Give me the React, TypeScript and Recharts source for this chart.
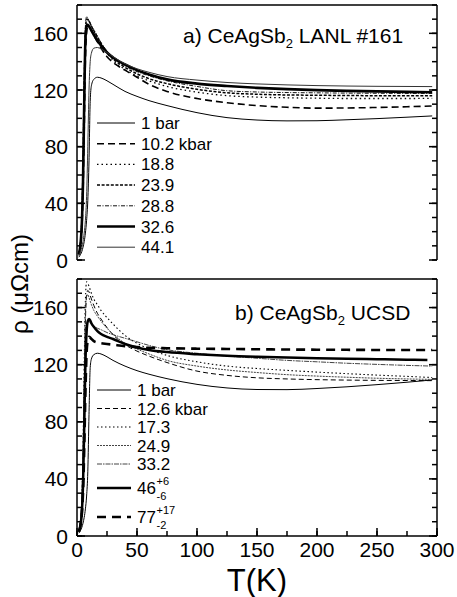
import React from 'react';
import { LineChart, Line, XAxis, YAxis, Legend } from 'recharts';

// Temperature grid (K) shared by most curves
const T_GRID = [1.5, 3, 4, 5, 6, 7, 8, 9, 10, 11, 12, 14, 17, 20, 25, 30, 40, 50, 60, 75, 100, 125, 150, 175, 200, 225, 250, 275, 296];
const T_GRID_SHORT = [1.5, 3, 4, 5, 6, 7, 8, 9, 10, 11, 12, 14, 17, 20, 25, 30, 40, 50, 60, 75, 100, 125, 150, 175, 200, 225, 250, 275, 292];

const X_TICKS = [0, 25, 50, 75, 100, 125, 150, 175, 200, 225, 250, 275, 300];
const X_TICK_LABELS = [0, 50, 100, 150, 200, 250, 300];
const Y_TICKS = [0, 10, 20, 30, 40, 50, 60, 70, 80, 90, 100, 110, 120, 130, 140, 150, 160, 170, 180];
const Y_TICK_LABELS = [0, 40, 80, 120, 160];

// Panel a) LANL sample, resistivity (µΩcm)
const LANL_1BAR = [2, 4, 6, 9, 13, 19, 28, 42, 70, 112, 123, 127.5, 129, 128.5, 126.5, 124, 119, 115.5, 112.5, 109, 104, 100.5, 98.8, 98.2, 98.3, 99, 99.8, 100.8, 101.7];
const LANL_10_2 = [4, 10, 20, 45, 90, 140, 160, 165, 165, 163.5, 162, 158.5, 154, 149.5, 143.5, 139.5, 134, 129, 124, 119, 114, 111, 109, 107.8, 107.2, 107.3, 107.7, 108.2, 108.7];
const LANL_18_8 = [4, 12, 24, 55, 105, 150, 166, 169, 168, 166.5, 165, 161.5, 157, 152.5, 146, 141, 134.5, 130, 126.5, 122.5, 118.5, 116, 115, 114.5, 114.2, 114, 114, 114, 114.1];
const LANL_23_9 = [4, 13, 28, 65, 120, 160, 170, 170, 168.5, 167, 165, 162, 157.5, 153, 146.5, 142, 136, 131.5, 128, 124.5, 120.5, 118, 117, 116.5, 116.3, 116.1, 116, 116, 116];
const LANL_28_8 = [5, 15, 32, 75, 130, 165, 172, 170.5, 169, 167.5, 165.5, 162.5, 158, 153.5, 147.5, 143, 137, 133, 130, 126.5, 122.5, 119.5, 118.6, 118.2, 118, 117.8, 117.7, 117.6, 117.6];
const LANL_32_6 = [4, 12, 25, 55, 110, 155, 165, 166, 165, 163.5, 162, 159, 155, 151.5, 146.5, 143, 138, 134, 131, 127.5, 124.5, 122.8, 121.5, 120.6, 119.9, 119.4, 119, 118.7, 118.4];
const LANL_44_1 = [3, 6, 9, 13, 19, 28, 45, 80, 120, 140, 146, 149.5, 150, 149, 146.5, 143.5, 138.5, 135, 132.5, 129.5, 127, 125.3, 124.3, 123.6, 123.1, 122.8, 122.6, 122.5, 122.4];

// Panel b) UCSD sample, resistivity (µΩcm)
const UCSD_1BAR = [2, 4, 6, 9, 13, 19, 28, 45, 85, 118, 124, 127, 128, 127.5, 125.5, 123, 119, 115.8, 113.3, 110.2, 106.2, 103.7, 102.6, 102.5, 103.3, 104.5, 106, 107.7, 109.3];
const UCSD_12_6 = [3, 9, 18, 45, 100, 150, 168, 172, 171, 168.5, 166, 161.5, 156, 152, 146, 141, 134, 129.5, 126, 121.5, 115.5, 112.5, 110.8, 110, 109.5, 109.2, 109, 108.9, 108.8];
const UCSD_17_3 = [4, 12, 25, 60, 120, 165, 178, 177, 175, 172.5, 170, 166, 162, 158, 153, 148.5, 140.5, 135, 131, 126.5, 122, 119, 117.3, 116, 114.8, 113.7, 112.7, 111.8, 111];
const UCSD_24_9 = [4, 12, 25, 55, 110, 155, 168, 169, 167, 164.5, 162, 158, 154, 150.5, 145.5, 141.5, 135, 131, 127.5, 123, 119, 116.3, 114.5, 113, 112, 111.2, 110.5, 110, 109.7];
const UCSD_33_2 = [4, 12, 25, 55, 100, 135, 148, 151, 150.5, 149.5, 148.5, 147, 145.5, 144.5, 142.5, 141, 138.5, 136, 133.5, 130.5, 128, 126, 124.5, 123, 122, 121, 120.2, 119.5, 119];
const UCSD_46 = [3, 8, 16, 35, 75, 120, 143, 150.5, 152, 151, 149, 146.5, 143.5, 141.5, 139.5, 138, 134.5, 132, 130.3, 128.8, 127.3, 126.2, 125.5, 125, 124.5, 124.1, 123.8, 123.5, 123.3];
const UCSD_77 = [3, 8, 15, 30, 60, 100, 128, 137, 139.5, 139, 138, 136.5, 135.5, 135, 134.5, 134, 133, 132.3, 131.8, 131.5, 131.2, 131, 130.8, 130.6, 130.5, 130.4, 130.3, 130.3, 130.3];

type SeriesDef = {
  key: string;
  label: string;
  sup?: string;
  sub?: string;
  t: number[];
  rho: number[];
  dash?: string;
  width: number;
  color: string;
};

const LANL_SERIES: SeriesDef[] = [
  { key: 'a1', label: '1 bar', t: T_GRID, rho: LANL_1BAR, width: 1, color: '#000' },
  { key: 'a2', label: '10.2 kbar', t: T_GRID, rho: LANL_10_2, dash: '7 4', width: 1.6, color: '#000' },
  { key: 'a3', label: '18.8', t: T_GRID, rho: LANL_18_8, dash: '1.5 3', width: 1.3, color: '#000' },
  { key: 'a4', label: '23.9', t: T_GRID, rho: LANL_23_9, dash: '3 1.6', width: 1.5, color: '#000' },
  { key: 'a5', label: '28.8', t: T_GRID, rho: LANL_28_8, dash: '4 1.5 1 1.5', width: 1, color: '#111' },
  { key: 'a6', label: '32.6', t: T_GRID, rho: LANL_32_6, width: 2.6, color: '#000' },
  { key: 'a7', label: '44.1', t: T_GRID, rho: LANL_44_1, width: 1, color: '#333' },
];

const UCSD_SERIES: SeriesDef[] = [
  { key: 'b1', label: '1 bar', t: T_GRID, rho: UCSD_1BAR, width: 1, color: '#000' },
  { key: 'b2', label: '12.6 kbar', t: T_GRID, rho: UCSD_12_6, dash: '5 3', width: 1, color: '#000' },
  { key: 'b3', label: '17.3', t: T_GRID, rho: UCSD_17_3, dash: '1.5 2.5', width: 1.1, color: '#000' },
  { key: 'b4', label: '24.9', t: T_GRID, rho: UCSD_24_9, dash: '2 1', width: 1, color: '#444' },
  { key: 'b5', label: '33.2', t: T_GRID, rho: UCSD_33_2, dash: '5 1 1.5 1', width: 1, color: '#444' },
  { key: 'b6', label: '46', sup: '+6', sub: '-6', t: T_GRID_SHORT, rho: UCSD_46, width: 2.5, color: '#000' },
  { key: 'b7', label: '77', sup: '+17', sub: '-2', t: T_GRID, rho: UCSD_77, dash: '9 6', width: 2.6, color: '#000' },
];

const FONT = '"Liberation Sans", Arial, Helvetica, sans-serif';
const W = 457;
const MINOR = 5; // inward tick length drawn by the axis itself
const MAJOR = 8; // labelled ticks are extended to this length

const toRows = (s: SeriesDef) => s.rho.map((r, i) => ({ T: s.t[i], rho: r }));

// With tickMargin = -tickSize the tick anchor sits on the plot edge.
const xTick = (side: 'top' | 'bottom', labels: boolean) => (props: any) => {
  const { x, y, payload } = props;
  const v = payload.value as number;
  const major = X_TICK_LABELS.includes(v);
  const dir = side === 'bottom' ? -1 : 1;
  return (
    <g>
      {major && <path d={`M${x},${y}L${x},${y + dir * MAJOR}`} stroke="#000" strokeWidth={1.5} fill="none" />}
      {labels && major && (
        <text x={x} y={y + 21} textAnchor="middle" fontSize={21} fontFamily={FONT} fill="#000">
          {v}
        </text>
      )}
    </g>
  );
};

const yTick = (side: 'left' | 'right', labels: boolean) => (props: any) => {
  const { x, y, payload } = props;
  const v = payload.value as number;
  const major = Y_TICK_LABELS.includes(v);
  const dir = side === 'left' ? 1 : -1;
  return (
    <g>
      {major && <path d={`M${x},${y}L${x + dir * MAJOR},${y}`} stroke="#000" strokeWidth={1.5} fill="none" />}
      {labels && major && (
        <text x={x - 9} y={y} dy="0.36em" textAnchor="end" fontSize={21} fontFamily={FONT} fill="#000">
          {v}
        </text>
      )}
    </g>
  );
};

function LegendBlock({
  series,
  rows,
  x1,
  x2,
  textX,
}: {
  series: SeriesDef[];
  rows: number[];
  x1: number;
  x2: number;
  textX: number;
}) {
  return (
    <svg width={150} height={rows[rows.length - 1] + 20} style={{ display: 'block', overflow: 'visible' }}>
      {series.map((s, i) => (
        <g key={s.key}>
          <line x1={x1} x2={x2} y1={rows[i]} y2={rows[i]} stroke={s.color} strokeWidth={s.width} strokeDasharray={s.dash} />
          <text x={textX} y={rows[i] + 6} fontSize={17} fontFamily={FONT} fill="#000">
            {s.label}
          </text>
          {s.sup && (
            <text x={textX + 19.5} y={rows[i] - 3} fontSize={11} fontFamily={FONT} fill="#000">
              {s.sup}
            </text>
          )}
          {s.sub && (
            <text x={textX + 19.5} y={rows[i] + 12} fontSize={11} fontFamily={FONT} fill="#000">
              {s.sub}
            </text>
          )}
        </g>
      ))}
    </svg>
  );
}

const LANL_ROWS = [13, 33.7, 54.4, 75.1, 95.8, 116.5, 137.2];
const UCSD_ROWS = [10, 28.5, 47, 65.5, 84, 108, 137];

const axisLine = { stroke: '#000', strokeWidth: 1.5 };
const tickLine = { stroke: '#000', strokeWidth: 1.5 };

function Panel({
  series,
  height,
  margin,
  bottomHeight,
  showXLabels,
  legendPos,
  legendRows,
  legendX,
}: {
  series: SeriesDef[];
  height: number;
  margin: { top: number; right: number; bottom: number; left: number };
  bottomHeight: number;
  showXLabels: boolean;
  legendPos: { left: number; top: number };
  legendRows: number[];
  legendX: { x1: number; x2: number; textX: number };
}) {
  return (
    <LineChart width={W} height={height} margin={margin}>
      <XAxis
        xAxisId={0}
        type="number"
        dataKey="T"
        domain={[0, 300]}
        ticks={X_TICKS}
        interval={0}
        orientation="bottom"
        height={bottomHeight}
        tickSize={-MINOR}
        tickMargin={MINOR}
        tickLine={tickLine}
        axisLine={axisLine}
        tick={xTick('bottom', showXLabels)}
        allowDataOverflow
        label={
          showXLabels
            ? { value: 'T(K)', position: 'insideBottom', offset: 6, fontSize: 31, fontFamily: FONT, fill: '#000' }
            : undefined
        }
      />
      <XAxis
        xAxisId="top"
        type="number"
        domain={[0, 300]}
        ticks={X_TICKS}
        interval={0}
        orientation="top"
        height={1}
        tickSize={-MINOR}
        tickMargin={MINOR}
        tickLine={tickLine}
        axisLine={axisLine}
        tick={xTick('top', false)}
        allowDataOverflow
      />
      <YAxis
        yAxisId={0}
        type="number"
        domain={[0, 180]}
        ticks={Y_TICKS}
        interval={0}
        width={77}
        tickSize={-MINOR}
        tickMargin={MINOR}
        tickLine={tickLine}
        axisLine={axisLine}
        tick={yTick('left', true)}
        allowDataOverflow
      />
      <YAxis
        yAxisId="right"
        orientation="right"
        type="number"
        domain={[0, 180]}
        ticks={Y_TICKS}
        interval={0}
        width={1}
        tickSize={-MINOR}
        tickMargin={MINOR}
        tickLine={tickLine}
        axisLine={axisLine}
        tick={yTick('right', false)}
        allowDataOverflow
      />
      <Legend
        layout="vertical"
        align="center"
        verticalAlign="middle"
        wrapperStyle={{ left: legendPos.left, top: legendPos.top, width: 150, height: 'auto' }}
        content={() => <LegendBlock series={series} rows={legendRows} {...legendX} />}
      />
      {series.map((s) => (
        <Line
          key={s.key}
          data={toRows(s)}
          dataKey="rho"
          name={s.label}
          type="monotone"
          dot={false}
          activeDot={false}
          stroke={s.color}
          strokeWidth={s.width}
          strokeDasharray={s.dash}
          isAnimationActive={false}
        />
      ))}
    </LineChart>
  );
}

export default function App() {
  return (
    <div style={{ position: 'absolute', left: 0, top: 0, width: W, height: 597, background: '#fff', overflow: 'hidden' }}>
      <div style={{ position: 'absolute', left: 0, top: 0 }}>
        <Panel
          series={LANL_SERIES}
          height={272}
          margin={{ top: 4, right: 19, bottom: 12, left: 0 }}
          bottomHeight={0}
          showXLabels={false}
          legendPos={{ left: 90, top: 110 }}
          legendRows={LANL_ROWS}
          legendX={{ x1: 7, x2: 45, textX: 51 }}
        />
      </div>
      <div style={{ position: 'absolute', left: 0, top: 270 }}>
        <Panel
          series={UCSD_SERIES}
          height={327}
          margin={{ top: 8, right: 19, bottom: 0, left: 0 }}
          bottomHeight={61}
          showXLabels={true}
          legendPos={{ left: 90, top: 110 }}
          legendRows={UCSD_ROWS}
          legendX={{ x1: 7, x2: 41, textX: 47 }}
        />
      </div>
      <svg width={W} height={597} style={{ position: 'absolute', left: 0, top: 0, pointerEvents: 'none' }}>
        <text x={183} y={43} fontSize={21} fontFamily={FONT} fill="#000">
          a) CeAgSb
          <tspan fontSize={13} dy={5}>2</tspan>
          <tspan dy={-5}> LANL #161</tspan>
        </text>
        <text x={235} y={320} fontSize={21} fontFamily={FONT} fill="#000">
          b) CeAgSb
          <tspan fontSize={13} dy={5}>2</tspan>
          <tspan dy={-5}> UCSD</tspan>
        </text>
        <text
          x={0}
          y={0}
          transform="translate(28 334) rotate(-90)"
          textAnchor="start"
          fontSize={24}
          fontFamily={FONT}
          fill="#000"
        >
          ρ (μΩcm)
        </text>
      </svg>
    </div>
  );
}
